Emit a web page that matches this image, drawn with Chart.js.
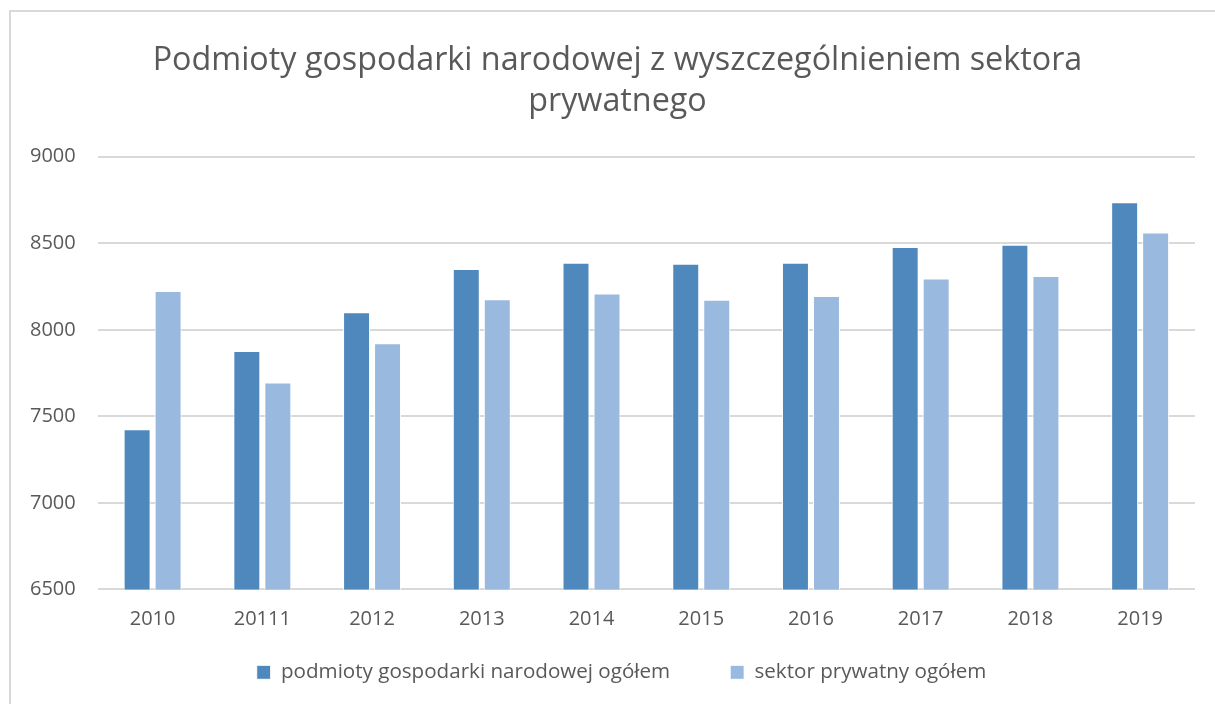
<!DOCTYPE html>
<html>
<head>
<meta charset="utf-8">
<script src="https://cdn.jsdelivr.net/npm/chart.js@4"></script>
<style>
  html, body { margin: 0; padding: 0; background: #fff; }
  #wrap { position: relative; width: 1215px; height: 704px; overflow: hidden; }
  #frame { position: absolute; left: 9px; top: 10px; width: 1300px; height: 800px;
           border-left: 2px solid #d9d9d9; border-top: 2px solid #d9d9d9; }
  #chart { position: absolute; left: 0; top: 0; }
</style>
</head>
<body>
<div id="wrap">
  <div id="frame"></div>
  <canvas id="chart" width="1215" height="704"></canvas>
</div>
<script>
// data
var years = ["2010", "20111", "2012", "2013", "2014", "2015", "2016", "2017", "2018", "2019"];
var totalUnits = [7425, 7877, 8102, 8352, 8388, 8381, 8388, 8479, 8491, 8737];
var privateSector = [8224, 7695, 7923, 8176, 8210, 8174, 8195, 8296, 8311, 8562];
var seriesNames = ["podmioty gospodarki narodowej ogółem", "sektor prywatny ogółem"];
var titleLines = ["Podmioty gospodarki narodowej z wyszczególnieniem sektora", "prywatnego"];

var textColor = "#595959";
var fontFamily = "'Open Sans', sans-serif";

// the legend needs wide gaps between items but not the same gap above it,
// so squeeze its box after fitting and put it back where it belongs after layout
var legendGap = 60;
var legendSqueeze = 38;
var legendTop = 602;
var titleShift = 16;
var legendShift = 20;

var tweakBoxes = {
  id: 'tweakBoxes',
  beforeInit: function (chart) {
    var fit = chart.legend.fit;
    chart.legend.fit = function () {
      fit.call(this);
      this.height -= legendSqueeze;
    };
  },
  afterLayout: function (chart) {
    var lg = chart.legend;
    lg.top = legendTop;
    lg.bottom = chart.height;
    lg.left += legendShift;
    lg.right += legendShift;
    chart.titleBlock.left += titleShift;
    chart.titleBlock.right += titleShift;
  }
};

var ctx = document.getElementById("chart");
var chart = new Chart(ctx, {
  type: 'bar',
  data: {
    labels: years,
    datasets: [
      {
        label: seriesNames[0],
        data: totalUnits,
        backgroundColor: "#4f88bd",
        borderColor: "#ffffff",
        borderWidth: 1,
        barPercentage: 0.87,
        categoryPercentage: 0.565
      }, {
        label: seriesNames[1],
        data: privateSector,
        backgroundColor: "#99b9df",
        borderColor: "#ffffff",
        borderWidth: 1,
        barPercentage: 0.87,
        categoryPercentage: 0.565
      }
    ]
  },
  options: {
    responsive: false,
    animation: false,
    layout: { padding: { left: 8, right: 20, top: 30, bottom: 10 } },
    plugins: {
      title: {
        display: true,
        text: titleLines,
        color: textColor,
        font: { family: fontFamily, size: 32.3, weight: 'normal', lineHeight: 1.25 },
        padding: { top: 11, bottom: 35 }
      },
      legend: {
        position: 'bottom',
        labels: {
          color: textColor,
          font: { family: fontFamily, size: 20.6 },
          boxWidth: 14,
          boxHeight: 14,
          padding: legendGap
        }
      },
      tooltip: { enabled: false }
    },
    scales: {
      x: {
        grid: { display: false },
        border: { display: false },
        ticks: { color: textColor, font: { family: fontFamily, size: 20 }, padding: 10 }
      },
      y: {
        min: 6500,
        max: 9000,
        grid: { color: "#d9d9d9", lineWidth: 2, drawTicks: false },
        border: { display: false },
        ticks: {
          stepSize: 500,
          color: textColor,
          font: { family: fontFamily, size: 20 },
          padding: 22,
          callback: function (value) { return String(value); }
        }
      }
    }
  },
  plugins: [tweakBoxes]
});
</script>
</body>
</html>
